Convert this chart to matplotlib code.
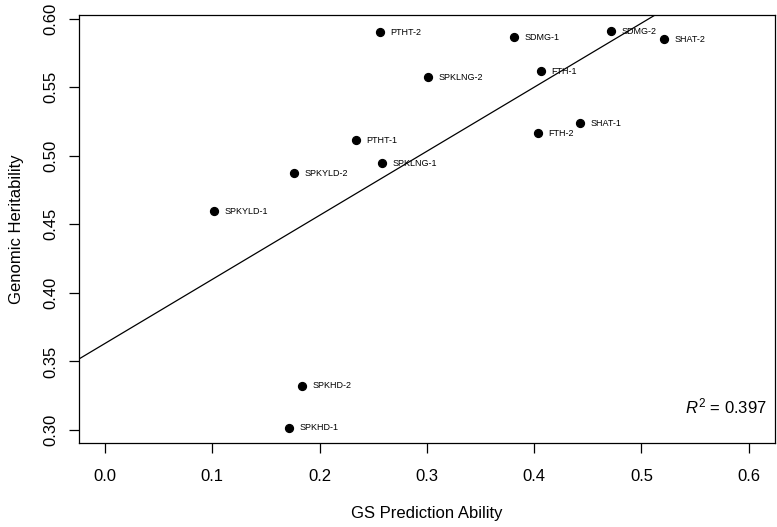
import numpy as np
import matplotlib
matplotlib.use('Agg')
import matplotlib.pyplot as plt

plt.rcParams['font.family'] = ['Liberation Sans', 'DejaVu Sans']
plt.rcParams['mathtext.fontset'] = 'custom'
plt.rcParams['mathtext.rm'] = 'Liberation Sans'
plt.rcParams['mathtext.it'] = 'Liberation Sans:italic'

# values
traits = ["PTHT-2", "SDMG-1", "SDMG-2", "SHAT-2", "SPKLNG-2", "FTH-1", "SHAT-1",
          "FTH-2", "PTHT-1", "SPKLNG-1", "SPKYLD-2", "SPKYLD-1", "SPKHD-2", "SPKHD-1"]
gs_ability = [0.2566, 0.3815, 0.4716, 0.5213, 0.3013, 0.4063, 0.4427,
              0.4038, 0.2336, 0.2579, 0.1764, 0.1019, 0.1839, 0.1718]
heritability = [0.5903, 0.5866, 0.5908, 0.5850, 0.5574, 0.5616, 0.5236,
                0.5163, 0.5112, 0.4945, 0.4874, 0.4596, 0.3321, 0.3017]
r2_text = "0.397"

x = np.array(gs_ability)
y = np.array(heritability)

fig = plt.figure(figsize=(7.77, 5.27), dpi=100)
ax = fig.add_axes([0.1017, 0.1594, 0.8957, 0.8121])

ax.scatter(x, y, s=32, color="black", zorder=3)
for name, xi, yi in zip(traits, x, y):
    ax.annotate(name, (xi, yi), xytext=(7.5, 0), textcoords="offset points",
                fontsize=6.5, va="center", ha="left")

# regression line (abline of lm)
slope, intercept = np.polyfit(x, y, 1)
ax.axline((0, intercept), slope=slope, color="black", lw=0.9)

ax.text(0.9885, 0.085, r"$R^2$ = " + r2_text, transform=ax.transAxes,
        ha="right", va="center", fontsize=12)

ax.set_xlim(-0.0242, 0.6244)
ax.set_ylim(0.2905, 0.6027)
ax.set_xticks([0.0, 0.1, 0.2, 0.3, 0.4, 0.5, 0.6])
ax.set_yticks([0.30, 0.35, 0.40, 0.45, 0.50, 0.55, 0.60])
ax.set_xticklabels(["0.0", "0.1", "0.2", "0.3", "0.4", "0.5", "0.6"])
ax.set_yticklabels(["0.30", "0.35", "0.40", "0.45", "0.50", "0.55", "0.60"],
                   rotation=90, va="center")
ax.tick_params(length=7, width=0.9, labelsize=12, pad=11.5)
ax.tick_params(axis="y", pad=8)
for sp in ax.spines.values():
    sp.set_linewidth(0.9)

ax.set_xlabel("GS Prediction Ability", fontsize=12, labelpad=16)
ax.set_ylabel("Genomic Heritability", fontsize=12, labelpad=14)

fig.savefig("out.png", dpi=100)
